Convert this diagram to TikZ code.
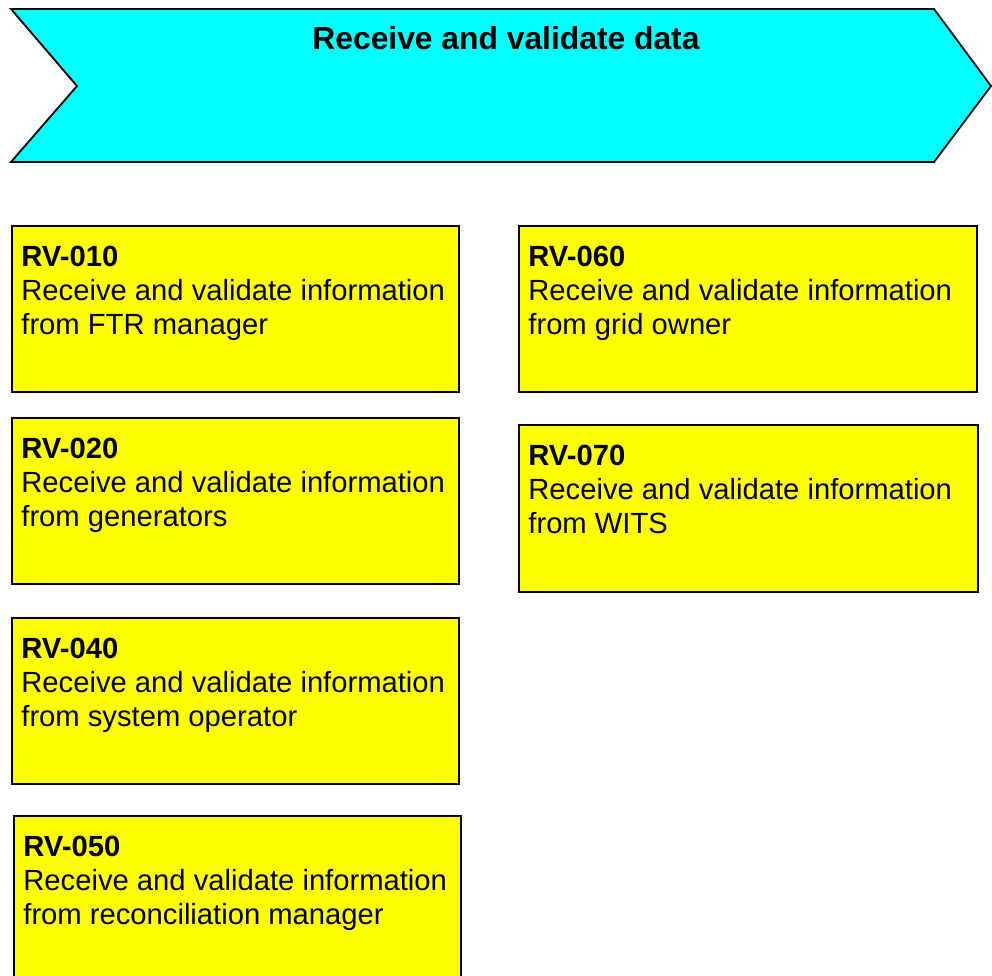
\documentclass[tikz,border=0pt]{standalone}
\usepackage{xcolor}
\usepackage{fontspec}
\setmainfont{Liberation Sans}
\usetikzlibrary{positioning}

\definecolor{bannercyan}{RGB}{0,255,255}
\definecolor{taskyellow}{RGB}{255,255,0}

\begin{document}
\begin{tikzpicture}[x=1pt,y=-1pt,line width=1.8pt,
    taskbox/.style={draw=black,fill=taskyellow,anchor=north west,inner sep=0pt,minimum height=166pt},
    tasktext/.style={align=left,inner sep=0pt,font=\fontsize{29.2}{34}\selectfont}]
          \useasboundingbox (0,0) rectangle (992,975);

          \coordinate (A) at (11,9);
          \coordinate (B) at (934,9);
          \coordinate (C) at (991,86);
          \coordinate (D) at (934,162);
          \coordinate (E) at (11,162);
          \coordinate (F) at (77,86);

          \draw[black,fill=bannercyan] (A) -- (B) -- (C) -- (D) -- (E) -- (F) -- cycle;
          \node[anchor=base,inner sep=0pt,font=\bfseries\fontsize{31.8}{36}\selectfont] (title) at (506,49) {Receive and validate data};

          \node[taskbox,minimum width=447pt] (rv010) at (11,225) {};
          \node[taskbox,minimum width=447pt] (rv020) at (11,417) {};
          \node[taskbox,minimum width=447pt] (rv040) at (11,617) {};
          \node[taskbox,minimum width=447pt] (rv050) at (13,815) {};
          \node[taskbox,minimum width=458pt] (rv060) at (518,225) {};
          \node[taskbox,minimum width=459pt,minimum height=167pt] (rv070) at (518,424) {};

          \node[tasktext,below right=20pt and 9.5pt of rv010.north west] (rv010t) {\textbf{RV-010}\\Receive and validate information\\from FTR manager};
          \node[tasktext,below right=20pt and 9.5pt of rv020.north west] (rv020t) {\textbf{RV-020}\\Receive and validate information\\from generators};
          \node[tasktext,below right=20pt and 9.5pt of rv040.north west] (rv040t) {\textbf{RV-040}\\Receive and validate information\\from system operator};
          \node[tasktext,below right=20pt and 9.5pt of rv050.north west] (rv050t) {\textbf{RV-050}\\Receive and validate information\\from reconciliation manager};
          \node[tasktext,below right=20pt and 9.5pt of rv060.north west] (rv060t) {\textbf{RV-060}\\Receive and validate information\\from grid owner};
          \node[tasktext,below right=20pt and 9.5pt of rv070.north west] (rv070t) {\textbf{RV-070}\\Receive and validate information\\from WITS};

          \end{tikzpicture}
\end{document}
